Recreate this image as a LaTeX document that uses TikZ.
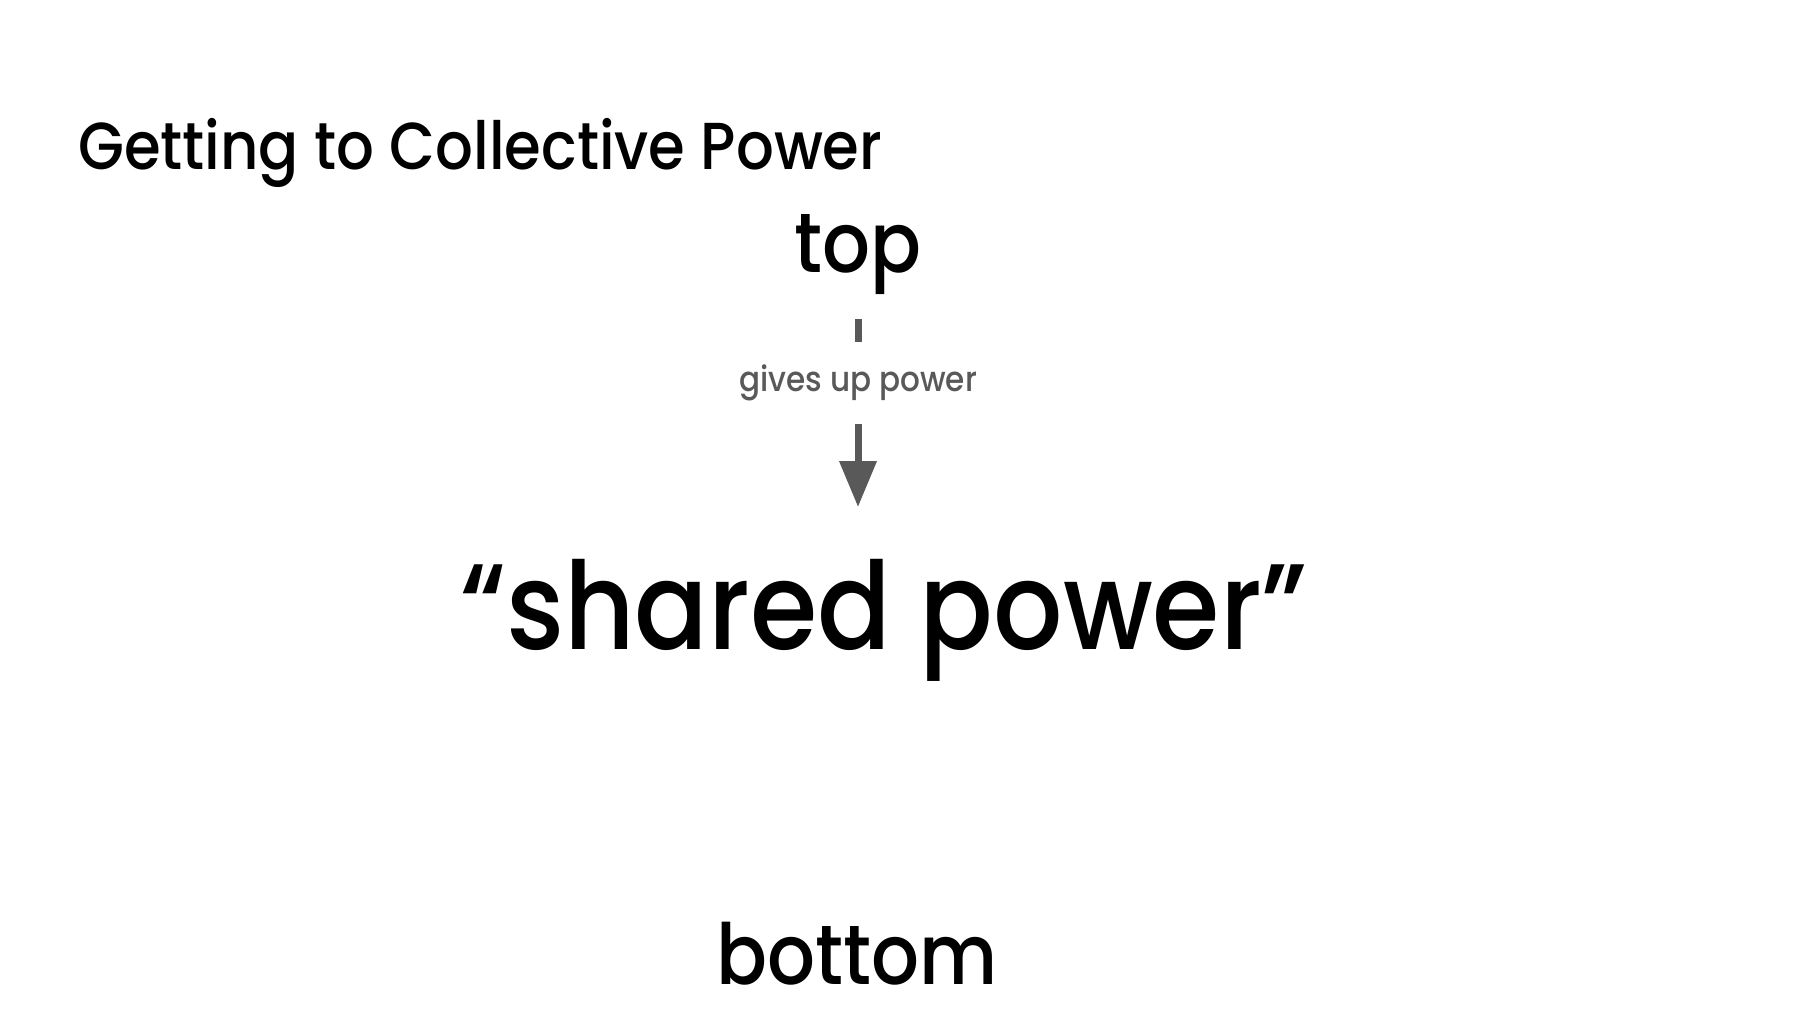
\documentclass[tikz,border=0pt]{standalone}
\usepackage{fontspec}
\setmainfont{Poppins}
\newfontfamily\comicish{Poppins Medium}
\usepackage{graphicx}
\usetikzlibrary{arrows.meta}
\definecolor{arrgray}{HTML}{595959}
\newcommand{\fittext}[2]{\scalebox{1}[1.12]{\resizebox{#1}{!}{\comicish #2}}}
\tikzset{
  txt/.style={inner sep=0pt, text=black},
  lbl/.style={inner sep=0pt, minimum height=81pt, text=arrgray},
  arr/.style={draw=arrgray, line width=7pt, -{Triangle[length=46pt,width=36pt]}}
}
\begin{document}
\begin{tikzpicture}[x=1pt,y=-1pt]
\useasboundingbox[fill=white] (0,0) rectangle (1807,1015);
\node[txt, anchor=base west] (title) at (78,169) {\fittext{804pt}{Getting to Collective Power}};
\node[txt, anchor=base] (top) at (858,272) {\fittext{127pt}{top}};
\node[txt, anchor=base] (shared) at (884,649) {\fittext{847pt}{“shared power”}};
\node[txt, anchor=base] (bottom) at (857,984) {\fittext{281pt}{bottom}};
\coordinate (a1) at (858,319);
\coordinate (a2) at (858,507);
\node[lbl] (gives) at (858,383) {\fittext{238pt}{gives up power}};
\draw[arr] (a1) -- (gives) -- (a2);
\end{tikzpicture}
\end{document}
